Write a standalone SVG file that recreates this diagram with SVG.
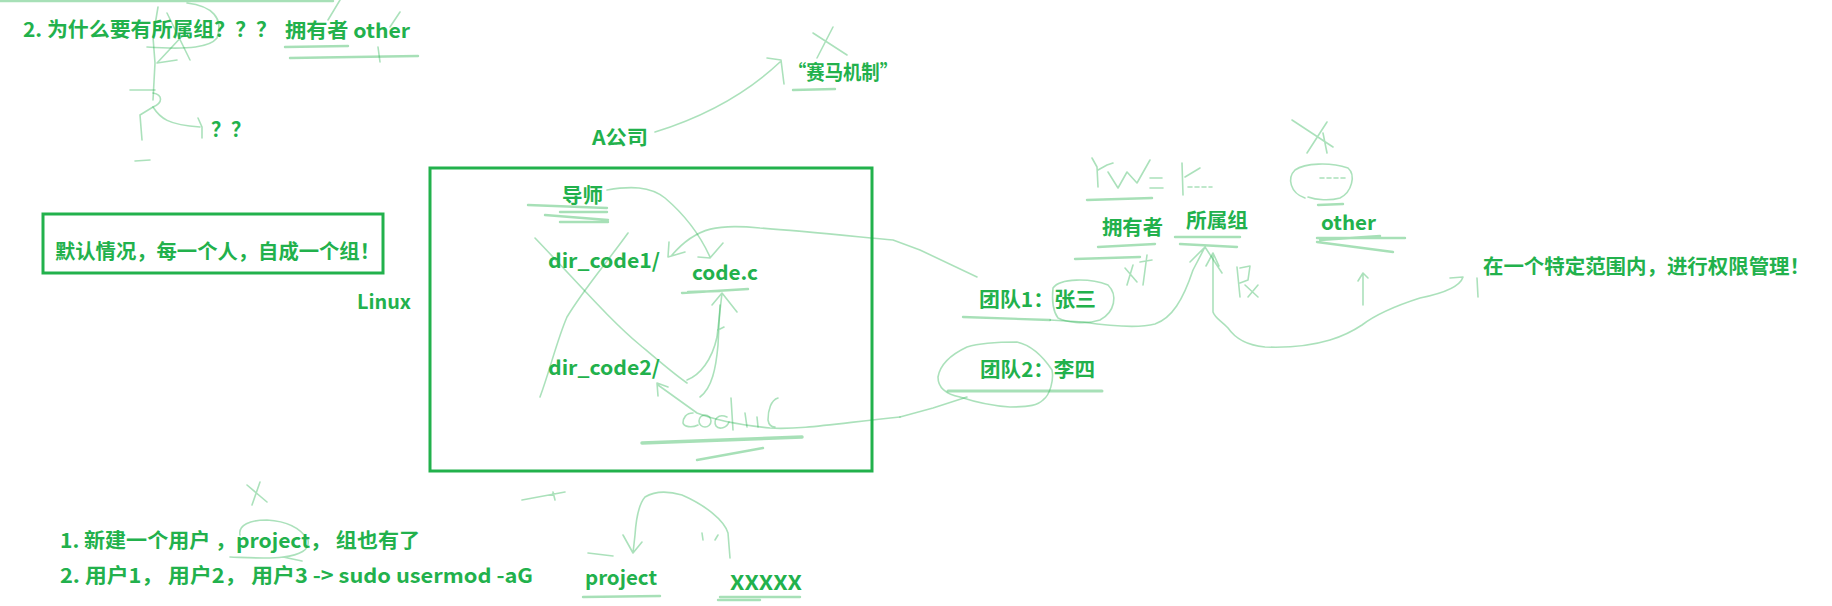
<svg xmlns="http://www.w3.org/2000/svg" width="1832" height="606" viewBox="0 0 1832 606">
<style>
.t{font-family:"Noto Sans CJK SC","Noto Sans",sans-serif;font-weight:bold;font-size:20px;fill:#22b14c}
.s{fill:none;stroke:#22b14c;stroke-opacity:0.38;stroke-width:1.6;stroke-linecap:round;stroke-linejoin:round}
.u{fill:none;stroke:#22b14c;stroke-opacity:0.4;stroke-width:2.4;stroke-linecap:round}
.b{fill:none;stroke:#22b14c;stroke-width:3}
</style>
<rect width="1832" height="606" fill="#ffffff"/>

<g id="box-default">
<rect class="b" x="43" y="214" width="340" height="59"/>
<text class="t" x="55" y="259" textLength="325" lengthAdjust="spacingAndGlyphs">默认情况，每一个人，自成一个组！</text>
</g>

<g id="box-linux">
<rect class="b" x="430" y="168" width="442" height="303"/>
</g>

<g id="q2"><text class="t" x="23" y="37" textLength="254" lengthAdjust="spacingAndGlyphs">2. 为什么要有所属组？？？</text></g>
<g id="owner-other-top"><text class="t" x="285" y="38" textLength="125" lengthAdjust="spacingAndGlyphs">拥有者 other</text></g>
<g id="qq"><text class="t" x="211" y="137" textLength="40" lengthAdjust="spacingAndGlyphs">？？</text></g>
<g id="saima"><text class="t" x="788" y="80" textLength="110" lengthAdjust="spacingAndGlyphs">“赛马机制”</text></g>
<g id="acompany"><text class="t" x="592" y="145" textLength="56" lengthAdjust="spacingAndGlyphs">A公司</text></g>
<g id="linux"><text class="t" x="357" y="309" textLength="54" lengthAdjust="spacingAndGlyphs">Linux</text></g>
<g id="daoshi"><text class="t" x="562" y="203" textLength="41" lengthAdjust="spacingAndGlyphs">导师</text></g>
<g id="dir1"><text class="t" x="548" y="268" textLength="112" lengthAdjust="spacingAndGlyphs">dir_code1/</text></g>
<g id="codec"><text class="t" x="692" y="280" textLength="66" lengthAdjust="spacingAndGlyphs">code.c</text></g>
<g id="dir2"><text class="t" x="548" y="375" textLength="112" lengthAdjust="spacingAndGlyphs">dir_code2/</text></g>
<g id="owner"><text class="t" x="1102" y="235" textLength="61" lengthAdjust="spacingAndGlyphs">拥有者</text></g>
<g id="group"><text class="t" x="1186" y="228" textLength="62" lengthAdjust="spacingAndGlyphs">所属组</text></g>
<g id="other"><text class="t" x="1321" y="230" textLength="55" lengthAdjust="spacingAndGlyphs">other</text></g>
<g id="team1"><text class="t" x="979" y="307" textLength="117" lengthAdjust="spacingAndGlyphs">团队1：张三</text></g>
<g id="team2"><text class="t" x="980" y="377" textLength="115" lengthAdjust="spacingAndGlyphs">团队2：李四</text></g>
<g id="scope"><text class="t" x="1483" y="274" textLength="327" lengthAdjust="spacingAndGlyphs">在一个特定范围内，进行权限管理！</text></g>
<g id="step1"><text class="t" x="60" y="548" textLength="360" lengthAdjust="spacingAndGlyphs">1. 新建一个用户 ，project， 组也有了</text></g>
<g id="step2"><text class="t" x="60" y="583" textLength="473" lengthAdjust="spacingAndGlyphs">2. 用户1， 用户2， 用户3 -&gt; sudo usermod -aG</text></g>
<g id="project"><text class="t" x="585" y="585" textLength="72" lengthAdjust="spacingAndGlyphs">project</text></g>
<g id="xxxxx"><text class="t" x="730" y="590" textLength="72" lengthAdjust="spacingAndGlyphs">XXXXX</text></g>

<g id="connectors">
<!-- top-left sketch -->
<path class="u" d="M0,1 L333,1"/>
<path class="s" d="M187,3 C212,6 224,18 217,38 C210,47 190,50 147,47"/>
<path class="s" d="M158,7 L153,37 L155,63 L153,100"/>
<path class="s" d="M167,13 L190,60 M185,33 L157,63 L177,60"/>
<path class="s" d="M130,90 L155,90"/>
<path class="s" d="M153,93 C163,95 163,103 153,107 L140,115 L142,140"/>
<path class="s" d="M153,107 C160,118 168,125 200,127 M198,118 L202,127 L202,138"/>
<path class="s" d="M135,161 L150,160"/>
<path class="u" d="M285,47 L348,46 M290,58 L418,56"/>
<path class="s" d="M378,47 L380,62 M340,0 L328,20 M400,12 L390,27"/>
<!-- A company arrow -->
<path class="s" d="M655,132 C700,118 745,95 780,62 M767,58 L781,60 L784,84"/>
<path class="s" d="M813,33 L847,55 M833,27 L817,58"/>
<path class="u" d="M793,90 L835,89"/>
<!-- inside box -->
<path class="u" d="M528,205 L607,208 M560,212 L607,212 M545,215 L608,220 M560,222 L608,222"/>
<path class="s" d="M607,190 C630,186 650,186 665,198 C685,215 700,235 710,257 M698,257 L710,258 L723,243"/>
<path class="s" d="M977,277 L920,250 L893,240 C850,236 800,231 760,228 C720,224 697,226 672,255 M669,242 L668,257 L685,252"/>
<path class="s" d="M535,238 C580,285 610,320 640,345 C660,362 675,375 687,383"/>
<path class="s" d="M628,233 C605,265 583,290 567,317 C557,340 550,370 540,397"/>
<path class="u" d="M682,293 L748,289 M688,292 L720,291"/>
<path class="s" d="M687,380 C700,375 712,360 717,337 L722,293 M712,305 L722,293 L737,312"/>
<path class="s" d="M700,397 C712,388 716,368 718,345 L720,305 M718,330 L724,327"/>
<path class="s" d="M900,417 C840,423 800,430 770,428 C740,425 715,420 697,413 L658,385 M658,396 L657,383 L668,387"/>
<path class="s" d="M693,413 C686,413 683,418 683,423 C684,427 692,428 698,425"/>
<circle class="s" cx="705" cy="421" r="6"/>
<path class="s" d="M727,417 C718,413 713,420 716,426 C719,430 727,428 729,422 M731,398 L733,430"/>
<path class="s" d="M745,413 L747,427 M757,417 L758,427"/>
<path class="s" d="M778,398 C771,400 768,410 768,420 C769,426 772,427 775,427"/>
<path class="u" d="M642,443 L802,437" style="stroke-width:3.5"/>
<path class="u" d="M697,460 L763,448"/>
<!-- right side sketches -->
<path class="s" d="M1092,158 L1097,167 L1098,187 M1098,170 L1107,165 L1113,163"/>
<path class="s" d="M1108,172 L1118,188 L1127,172 L1137,183 L1150,160"/>
<path class="s" d="M1150,178 L1162,178 M1150,188 L1163,188"/>
<path class="u" d="M1087,200 L1152,198"/>
<path class="s" d="M1182,163 L1183,195 M1185,177 L1200,168"/>
<path class="s" d="M1188,187 L1212,187" stroke-dasharray="4 3"/>
<path class="s" d="M1292,120 L1333,147 M1327,122 L1307,153 M1323,133 L1327,153"/>
<path class="s" d="M1305,198 C1290,193 1287,178 1295,170 C1305,163 1330,162 1348,168 C1356,175 1352,192 1340,198 C1330,201 1316,200 1308,197"/>
<path class="s" d="M1320,178 L1345,178" stroke-dasharray="4 3"/>
<path class="u" d="M1318,205 L1343,204"/>
<path class="u" d="M1098,247 L1155,244 M1075,259 L1140,257"/>
<path class="s" d="M1125,268 L1137,282 M1133,265 L1127,285 M1147,255 L1143,285 M1140,262 L1152,260"/>
<path class="u" d="M1175,237 L1240,237 M1180,244 L1237,247"/>
<path class="u" d="M1317,238 L1405,238 M1317,242 L1393,252 M1320,240 L1380,236"/>
<path class="s" d="M1053,288 C1060,278 1090,278 1108,285 C1118,295 1115,312 1100,320 C1085,325 1065,322 1058,318 C1052,310 1052,298 1053,288"/>
<path class="u" d="M963,317 L1050,320"/>
<path class="s" d="M1050,320 L1083,322 C1110,326 1140,328 1155,324 C1172,318 1183,300 1193,270 L1205,247 M1190,262 L1205,247 L1222,273"/>
<path class="s" d="M1450,278 L1463,277 C1460,287 1440,294 1420,298 C1395,306 1375,315 1362,325 C1350,333 1340,337 1330,340 C1310,346 1290,348 1265,347 C1245,345 1235,338 1228,328 C1220,320 1215,318 1213,312 L1213,253 M1206,266 L1213,253 L1219,266"/>
<path class="s" d="M1237,267 L1240,297 M1240,268 L1250,266 L1248,280 L1240,283 M1245,285 L1258,297 M1258,285 L1248,297"/>
<path class="s" d="M1363,305 L1363,273 M1358,281 L1363,273 L1368,278"/>
<path class="s" d="M1477,278 L1478,297"/>
<path class="s" d="M960,397 C945,394 938,387 938,377 C940,365 950,355 967,347 C980,343 1000,342 1017,342 C1030,345 1042,355 1052,370 C1054,380 1050,395 1043,400 C1038,405 1030,407 1010,407 C995,406 975,402 960,397"/>
<path class="u" d="M948,391 L1102,391" style="stroke-width:3"/>
<path class="s" d="M900,417 L933,408 L967,397"/>
<!-- bottom sketches -->
<path class="s" d="M247,485 L267,502 M260,482 L252,505"/>
<path class="s" d="M240,535 C238,525 250,520 267,520 C285,521 300,527 308,540 C310,550 300,555 283,557 C270,559 255,558 230,557 M283,557 L302,561"/>
<path class="s" d="M522,500 L565,492 M553,492 L555,500"/>
<path class="s" d="M730,558 L728,533 C724,520 705,505 682,495 C668,491 655,491 645,497 C638,505 636,520 635,535 L633,553 M623,535 L633,553 L642,542"/>
<path class="s" d="M588,553 L613,556"/>
<path class="s" d="M702,533 L703,540 M718,535 L715,540"/>
<path class="u" d="M583,597 L660,596 M720,597 L800,597 M718,600 L760,600"/>
</g>
</svg>
